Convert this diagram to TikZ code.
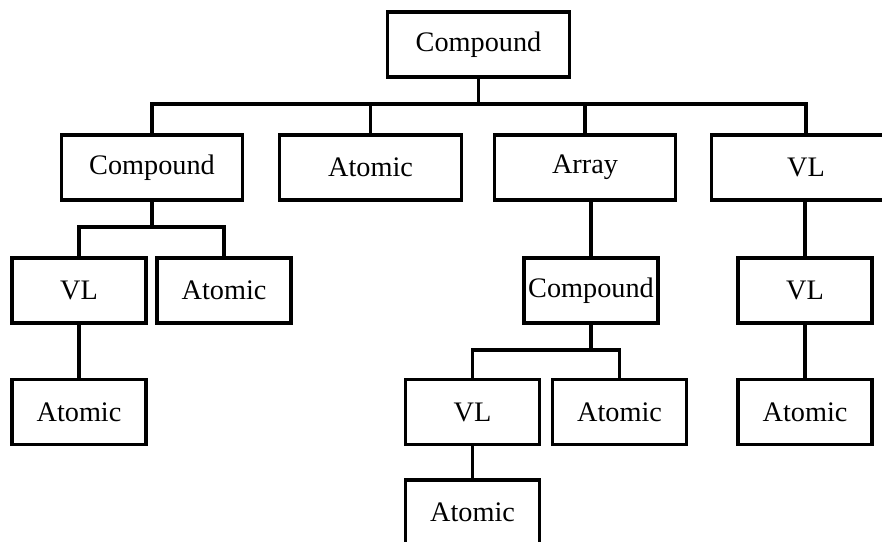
\documentclass[tikz,border=0pt]{standalone}
\usepackage{fontspec}
\setmainfont{Liberation Serif}
\begin{document}
\begin{tikzpicture}[x=0.75pt,y=-0.75pt,
  box/.style={draw=black,line width=2.3pt,rectangle,inner sep=0pt,
    minimum height=48.75pt,font=\fontsize{21.2pt}{24pt}\selectfont},
  wide/.style={box,minimum width=136pt},
  narrow/.style={box,minimum width=100.5pt},
  conn/.style={draw=black,line width=2.3pt}]
\useasboundingbox (0,0) rectangle (882,542);
\clip (0,0) rectangle (882,542);
\fill[white] (0,0) rectangle (882,542);
\coordinate (bus1) at (0,104);
\coordinate (bus2) at (0,227);
\coordinate (bus3) at (0,350);
\node[wide] (root) at (478.5,44.5) {Compound};
\node[wide] (c1) at (152,167.5) {Compound};
\node[wide] (a1) at (370.5,167.5) {Atomic};
\node[wide] (arr) at (585,167.5) {Array};
\node[box,minimum width=142pt] (vl1) at (806,167.5) {VL};
\node[narrow] (vl2) at (79,290.5) {VL};
\node[narrow] (a2) at (224,290.5) {Atomic};
\node[narrow] (a3) at (79,412) {Atomic};
\node[narrow] (c2) at (591,290.5) {Compound};
\node[narrow] (vl3) at (805,290.5) {VL};
\node[narrow] (a4) at (805,412) {Atomic};
\node[narrow] (vl4) at (472.5,412) {VL};
\node[narrow] (a5) at (619.5,412) {Atomic};
\node[narrow] (a6) at (472.5,512.5) {Atomic};
% level 1
\draw[conn] (root.south) -- (root.south |- bus1);
\draw[conn] (c1.north) |- (bus1 -| vl1.north) -- (vl1.north);
\draw[conn] (a1.north) -- (a1.north |- bus1);
\draw[conn] (arr.north) -- (arr.north |- bus1);
% under c1
\draw[conn] (c1.south) -- (c1.south |- bus2);
\draw[conn] (vl2.north) |- (bus2 -| a2.north) -- (a2.north);
\draw[conn] (vl2.south) -- (a3.north);
% under arr
\draw[conn] (c2.north) -- (c2.north |- arr.south);
\draw[conn] (c2.south) -- (c2.south |- bus3);
\draw[conn] (vl4.north) |- (bus3 -| a5.north) -- (a5.north);
\draw[conn] (vl4.south) -- (a6.north);
% under vl1
\draw[conn] (vl3.north) -- (vl3.north |- vl1.south);
\draw[conn] (vl3.south) -- (a4.north);
\end{tikzpicture}
\end{document}
